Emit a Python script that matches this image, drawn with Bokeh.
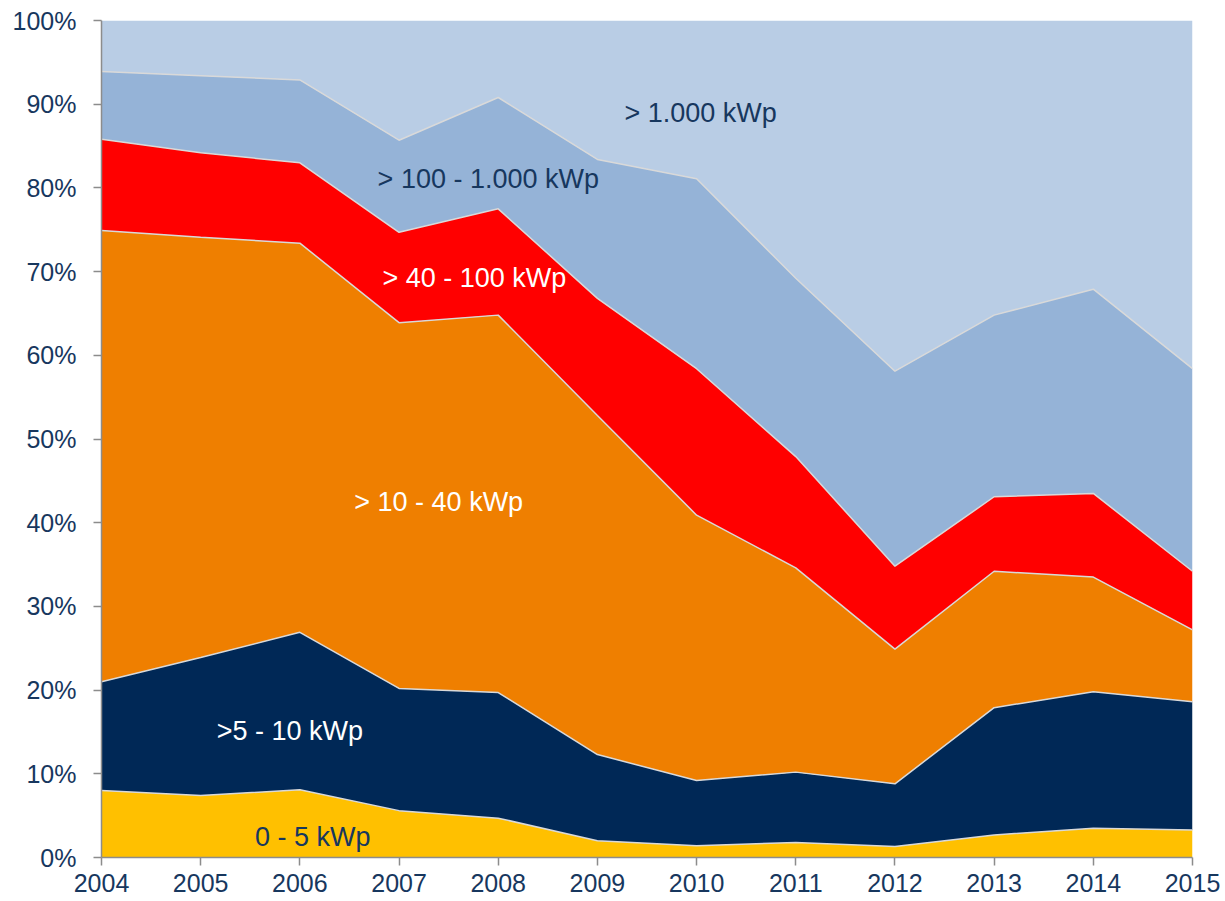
from bokeh.plotting import figure
from bokeh.models import ColumnDataSource, FixedTicker, PrintfTickFormatter, Range1d
from bokeh.core.properties import value
from bokeh.transform import stack
from bokeh.embed import file_html
from bokeh.resources import INLINE

years = [2004, 2005, 2006, 2007, 2008, 2009, 2010, 2011, 2012, 2013, 2014, 2015]

# shares in percent of each size class
s_0_5 = [8.0, 7.4, 8.1, 5.6, 4.7, 2.0, 1.4, 1.8, 1.3, 2.7, 3.5, 3.3]
s_5_10 = [13.0, 16.5, 18.8, 14.6, 15.0, 10.3, 7.8, 8.4, 7.5, 15.2, 16.3, 15.3]
s_10_40 = [53.9, 50.2, 46.5, 43.7, 45.1, 40.5, 31.7, 24.4, 16.1, 16.3, 13.7, 8.6]
s_40_100 = [10.9, 10.1, 9.6, 10.8, 12.7, 14.0, 17.5, 13.3, 9.9, 8.9, 10.0, 7.0]
s_100_1000 = [8.1, 9.2, 9.9, 11.0, 13.3, 16.6, 22.7, 21.3, 23.3, 21.7, 24.4, 24.2]
s_1000 = [6.1, 6.6, 7.1, 14.3, 9.2, 16.6, 18.9, 30.8, 41.9, 35.2, 32.1, 41.6]

series_names = ["s0_5", "s5_10", "s10_40", "s40_100", "s100_1000", "s1000"]
colors = ["#FFC000", "#002856", "#EF7F00", "#FF0000", "#95B3D7", "#B9CDE5"]

label_texts = ["0 - 5 kWp", ">5 - 10 kWp", "> 10 - 40 kWp", "> 40 - 100 kWp",
               "> 100 - 1.000 kWp", "> 1.000 kWp"]
label_x = [2006.13, 2005.9, 2007.4, 2007.76, 2007.9, 2010.04]
label_y = [2.5, 15.1, 42.5, 69.2, 81.1, 88.9]
label_colors = ["#17375E", "#FFFFFF", "#FFFFFF", "#FFFFFF", "#17375E", "#17375E"]

y_ticks = [0, 10, 20, 30, 40, 50, 60, 70, 80, 90, 100]

source = ColumnDataSource(dict(
    x=years, s0_5=s_0_5, s5_10=s_5_10, s10_40=s_10_40,
    s40_100=s_40_100, s100_1000=s_100_1000, s1000=s_1000,
))

FONT = "Liberation Sans"
TEXT_COLOR = "#17375E"

p = figure(width=1225, height=901, output_backend="svg", toolbar_location=None,
           x_range=Range1d(2004, 2015), y_range=Range1d(0, 100),
           min_border_left=101, min_border_right=33, min_border_top=20,
           min_border_bottom=44)
p.outline_line_color = None
p.xgrid.visible = False
p.ygrid.visible = False
p.background_fill_color = "white"

p.varea_stack(stackers=series_names, x="x", color=colors, source=source)
for i in range(1, len(series_names)):
    p.line(x="x", y=stack(*series_names[:i]), color="#D9D9D9", line_width=1.5,
           source=source)

tsrc = ColumnDataSource(dict(x=label_x, y=label_y, t=label_texts, c=label_colors))
p.text(x="x", y="y", text="t", text_color="c", source=tsrc,
       text_font=value(FONT), text_font_size="27px",
       text_align="center", text_baseline="middle")

for ax in (p.xaxis[0], p.yaxis[0]):
    ax.axis_line_color = "#8C8C8C"
    ax.axis_line_width = 1.5
    ax.major_tick_line_color = "#8C8C8C"
    ax.major_tick_line_width = 1.5
    ax.major_tick_out = 8
    ax.major_tick_in = 0
    ax.minor_tick_line_color = None
    ax.major_label_text_font = FONT
    ax.major_label_text_font_size = "25px"
    ax.major_label_text_color = TEXT_COLOR

p.xaxis.ticker = FixedTicker(ticks=years)
p.xaxis.major_label_standoff = 8
p.yaxis.ticker = FixedTicker(ticks=y_ticks)
p.yaxis.formatter = PrintfTickFormatter(format="%d%%")
p.yaxis.major_label_standoff = 17

open("out.html", "w").write(file_html(p, INLINE))
